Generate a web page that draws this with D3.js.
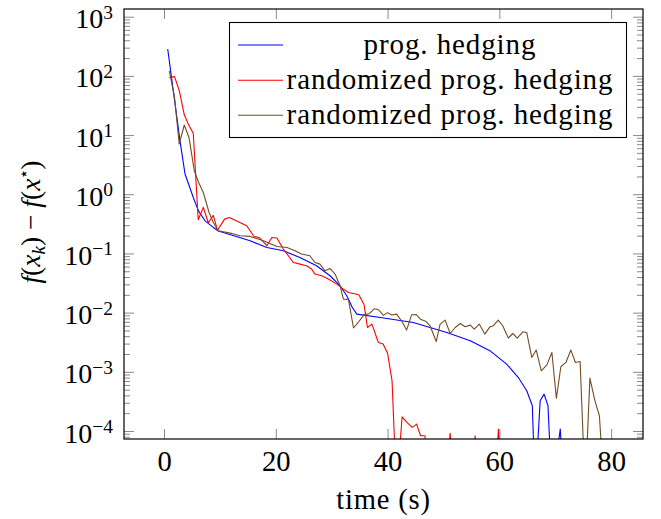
<!DOCTYPE html>
<html><head><meta charset="utf-8">
<script src="https://cdn.jsdelivr.net/npm/d3@7"></script>
<style>body{margin:0;background:#fff}svg{display:block}</style>
</head><body>
<svg id="c" width="661" height="519"></svg>
<script>
// ---- data ----
const seriesNames = ["prog. hedging", "randomized prog. hedging", "randomized prog. hedging"];
const xTicks = [0, 20, 40, 60, 80];
const yTickExps = [-4, -3, -2, -1, 0, 1, 2, 3];

const blueX = [0.66, 2.86, 3.76, 5.24, 6.14, 7.34, 8.82, 9.72, 15.4, 18.4, 21.35, 24.3, 27.3, 29.7, 31.5, 32.7, 33.7, 34.5, 38.7, 44.6, 50.6, 54.8, 58.3, 61.3, 63.4, 64.9, 65.9, 66.4, 67.3, 68.0, 68.7, 69.4, 70.9, 71.5];
const blueY = [284, 8.0, 2.2, 0.88, 0.53, 0.356, 0.275, 0.24, 0.164, 0.126, 0.111, 0.0855, 0.0619, 0.042, 0.0284, 0.0193, 0.0122, 0.00944, 0.00828, 0.00681, 0.00461, 0.00336, 0.00228, 0.00135, 0.0008, 0.00048, 0.000267, 1e-5, 0.000324, 0.00042, 0.000267, 1e-5, 0.000108, 1e-5];

const redX = [0.95, 1.88, 2.74, 3.63, 4.33, 5.23, 6.12, 7.03, 7.92, 8.82, 9.57, 10.83, 11.68, 14.8, 16.07, 17.0, 18.4, 19.3, 20.2, 21.35, 23.14, 24.34, 25.5, 26.4, 27.0, 28.2, 29.4, 30.9, 32.1, 33.0, 34.3, 34.86, 35.8, 36.4, 37.2, 38.35, 39.2, 40.0, 40.8, 41.6, 42.6, 43.5, 44.4, 45.2, 45.9, 46.7, 47.3, 48.2, 49.2, 50.3, 51.2, 51.9, 53.0, 54.0, 55.0, 55.66, 56.3, 57.3, 58.3, 59.2, 59.83, 60.4];
const redY = [94, 97, 56, 22, 15.4, 10.7, 0.37, 0.6, 0.33, 0.44, 0.246, 0.38, 0.405, 0.294, 0.195, 0.186, 0.135, 0.186, 0.182, 0.119, 0.0703, 0.066, 0.0619, 0.0545, 0.0448, 0.042, 0.0369, 0.0303, 0.025, 0.0219, 0.0206, 0.02, 0.0136, 0.0056, 0.0064, 0.00313, 0.00294, 0.00206, 0.000705, 1e-5, 0.000174, 0.000139, 0.000115, 0.000131, 0.0000831, 0.0000831, 1e-5, 1e-5, 1e-5, 1e-5, 0.0000912, 1e-5, 1e-5, 1e-5, 1e-5, 0.000083, 1e-5, 1e-5, 1e-5, 1e-5, 0.000107, 1e-5];

const brownX = [0.95, 1.88, 2.72, 3.62, 4.47, 5.41, 6.2, 7.03, 8.05, 8.77, 9.66, 12.1, 13.6, 15.4, 17.8, 20.2, 22.0, 23.45, 24.6, 26.1, 27.0, 27.9, 28.8, 29.7, 30.6, 31.5, 32.1, 33.0, 33.9, 34.9, 35.8, 36.7, 37.6, 38.35, 39.25, 40.0, 40.75, 41.6, 42.5, 43.4, 44.3, 45.1, 45.9, 46.9, 47.6, 48.7, 49.4, 50.3, 51.2, 52.1, 53.0, 53.9, 54.8, 55.5, 56.4, 57.4, 58.3, 58.9, 59.8, 60.6, 61.6, 62.4, 63.2, 64.2, 64.9, 65.8, 66.6, 67.5, 68.5, 69.4, 70.2, 71.0, 71.9, 72.8, 73.6, 74.45, 75.35, 76.2, 77.1, 77.9, 78.75];
const brownY = [122, 43.3, 7.05, 14.8, 9.12, 2.5, 1.58, 1.07, 0.497, 0.343, 0.242, 0.218, 0.199, 0.194, 0.164, 0.131, 0.126, 0.111, 0.0976, 0.0914, 0.0703, 0.066, 0.0509, 0.0557, 0.0448, 0.0284, 0.0169, 0.0167, 0.0055, 0.00714, 0.00927, 0.00955, 0.0116, 0.0113, 0.0090, 0.01, 0.0091, 0.00944, 0.00728, 0.00507, 0.00919, 0.0093, 0.00771, 0.00708, 0.006, 0.00325, 0.0064, 0.00748, 0.00444, 0.00561, 0.00655, 0.00576, 0.00615, 0.00527, 0.0064, 0.00434, 0.00576, 0.006, 0.00748, 0.006, 0.00372, 0.00444, 0.00372, 0.00474, 0.00461, 0.00175, 0.00233, 0.00104, 0.00131, 0.00212, 0.000357, 0.00122, 0.00144, 0.00233, 0.00144, 0.00149, 1e-5, 0.000783, 0.000324, 0.000181, 1e-5];

const colors = ["#0000ff", "#ff0000", "#734d26"];

// ---- layout ----
const L = 124, R = 643, T = 9, B = 439;
const FONT = '"Liberation Serif","DejaVu Serif","Noto Serif","Times New Roman",Times,Tinos,"Nimbus Roman","FreeSerif","Latin Modern Roman",Georgia,serif';
const svg = d3.select("#c");

const x = d3.scaleLinear().domain([-7.16, 85.7]).range([L, R]);
const y = d3.scaleLog().domain([Math.pow(10, -4.135), Math.pow(10, 3.13)]).range([B, T]);

svg.append("clipPath").attr("id", "clip").append("rect")
  .attr("x", L).attr("y", T).attr("width", R - L).attr("height", B - T);

const tickColor = "#8a8a8a";

const minorVals = [];
for (let e = -5; e <= 3; e++) for (let m = 2; m <= 9; m++) {
  const v = m * Math.pow(10, e);
  if (v >= y.domain()[0] && v <= y.domain()[1]) minorVals.push(v);
}
const majorVals = yTickExps.map(e => Math.pow(10, e));

function styleAxis(g) {
  g.select(".domain").remove();
  g.attr("font-family", null);
  g.selectAll(".tick line").attr("stroke", tickColor).attr("stroke-width", 1);
}

svg.append("g").attr("transform", `translate(${L},0)`)
  .call(d3.axisLeft(y).tickValues(minorVals).tickSize(-6).tickFormat(""))
  .call(styleAxis);
svg.append("g").attr("transform", `translate(${R},0)`)
  .call(d3.axisRight(y).tickValues(minorVals).tickSize(-6).tickFormat(""))
  .call(styleAxis);
const yAxL = svg.append("g").attr("transform", `translate(${L},0)`)
  .call(d3.axisLeft(y).tickValues(majorVals).tickSize(-10).tickFormat(""))
  .call(styleAxis);
yAxL.selectAll(".tick").each(function(d) {
  const e = Math.round(Math.log10(d));
  const t = d3.select(this).append("text")
    .attr("x", -11).attr("y", 11)
    .attr("text-anchor", "end")
    .attr("fill", "#000")
    .style("font-family", FONT).style("font-size", "28px");
  t.append("tspan").text("10");
  t.append("tspan").attr("dy", -9.5).style("font-size", "19.5px")
    .text(e < 0 ? "\u2212" + Math.abs(e) : String(e));
});
svg.append("g").attr("transform", `translate(${R},0)`)
  .call(d3.axisRight(y).tickValues(majorVals).tickSize(-10).tickFormat(""))
  .call(styleAxis);

const xAxB = svg.append("g").attr("transform", `translate(0,${B})`)
  .call(d3.axisBottom(x).tickValues(xTicks).tickSize(-10).tickFormat(d3.format("d")))
  .call(styleAxis);
xAxB.selectAll(".tick text").attr("y", 32).attr("dy", 0).attr("fill", "#000")
  .style("font-family", FONT).style("font-size", "28.6px");
svg.append("g").attr("transform", `translate(0,${T})`)
  .call(d3.axisTop(x).tickValues(xTicks).tickSize(-10).tickFormat(""))
  .call(styleAxis);

const line = d3.line().x(d => x(d[0])).y(d => y(d[1]));
const series = [
  blueX.map((v, i) => [v, blueY[i]]),
  redX.map((v, i) => [v, redY[i]]),
  brownX.map((v, i) => [v, brownY[i]])
];
const plot = svg.append("g").attr("clip-path", "url(#clip)");
series.forEach((s, i) => {
  plot.append("path").datum(s).attr("d", line)
    .attr("fill", "none").attr("stroke", colors[i]).attr("stroke-width", 1.1)
    .attr("stroke-linejoin", "round");
});

svg.append("rect").attr("x", L).attr("y", T).attr("width", R - L).attr("height", B - T)
  .attr("fill", "none").attr("stroke", "#000").attr("stroke-width", 1.2);

const lg = svg.append("g");
lg.append("rect").attr("x", 229.5).attr("y", 22.5).attr("width", 397).attr("height", 115)
  .attr("fill", "#fff").attr("stroke", "#000").attr("stroke-width", 1.1);
const legY = [45, 80.3, 115.3];
seriesNames.forEach((n, i) => {
  lg.append("line").attr("x1", 238).attr("x2", 283).attr("y1", legY[i]).attr("y2", legY[i])
    .attr("stroke", colors[i]).attr("stroke-width", 1.1);
  lg.append("text").attr("x", 450).attr("y", legY[i] + 8.5).attr("text-anchor", "middle")
    .style("font-family", FONT).style("font-size", "29px").style("letter-spacing", "0.9px")
    .text(n);
});

svg.append("text").attr("x", (L + R) / 2).attr("y", 509).attr("text-anchor", "middle")
  .style("font-family", FONT).style("font-size", "28.6px").style("letter-spacing", "0.8px")
  .text("time (s)");

const yl = svg.append("text").attr("transform", `translate(40,${(T + B) / 2 - 2}) rotate(-90)`)
  .attr("text-anchor", "middle")
  .style("font-family", FONT).style("font-size", "27.5px");
yl.append("tspan").style("font-style", "italic").text("f");
yl.append("tspan").text("(");
yl.append("tspan").style("font-style", "italic").text("x");
yl.append("tspan").style("font-style", "italic").style("font-size", "19px").attr("dy", 5).text("k");
yl.append("tspan").attr("dy", -5).text(") \u2212 ");
yl.append("tspan").style("font-style", "italic").text("f");
yl.append("tspan").text("(");
yl.append("tspan").style("font-style", "italic").text("x");
yl.append("tspan").style("font-size", "19px").attr("dy", -11).text("\u22C6");
yl.append("tspan").attr("dy", 11).text(")");
</script>
</body></html>
